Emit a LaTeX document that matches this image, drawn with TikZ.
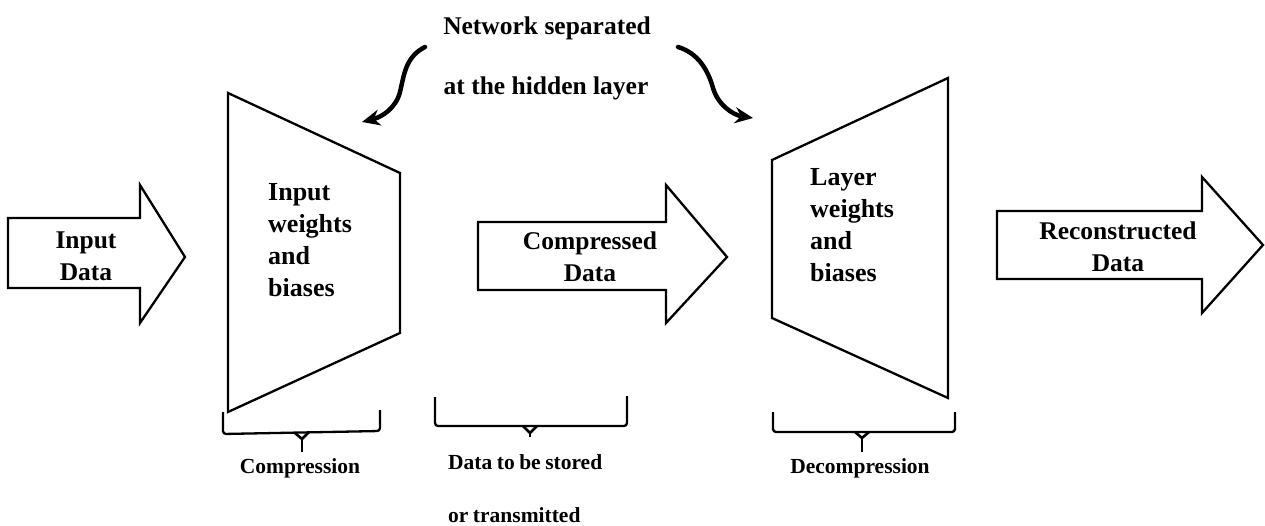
\documentclass[tikz,border=0pt]{standalone}
\usepackage{fontspec}
\setmainfont{Liberation Serif}
\usetikzlibrary{arrows.meta}
\begin{document}
\begin{tikzpicture}[x=1pt,y=-1pt,
  outline/.style={draw=black,line width=2.3pt,line join=miter,fill=white},
  lbl/.style={font=\bfseries\fontsize{25.5}{32}\selectfont,align=center,inner sep=0pt},
  trlbl/.style={font=\bfseries\fontsize{26}{32}\selectfont,align=left,inner sep=0pt,anchor=west},
  titletxt/.style={font=\bfseries\fontsize{25.5}{28}\selectfont,inner sep=0pt},
  captxt/.style={font=\bfseries\fontsize{21.5}{25}\selectfont,inner sep=0pt},
  bracepath/.style={draw=black,line width=2.3pt,rounded corners=3pt},
  stub/.style={draw=black,line width=2.6pt},
  curl/.style={draw=black,line width=4.5pt,line cap=round,-{Stealth[length=18pt,width=16pt]}}
]
\useasboundingbox (0,0) rectangle (1265,526);
\fill[white] (0,0) rectangle (1265,526);

% block arrows
\draw[outline] (8,218) -- (140,218) -- (140,185) -- (185,257) -- (140,323) -- (140,288) -- (8,288) -- cycle;
\node[lbl] (inp) at (86,256) {Input\\Data};

\draw[outline] (478,222) -- (666,222) -- (666,185) -- (727,257) -- (666,323) -- (666,290) -- (478,290) -- cycle;
\node[lbl] (comp) at (590,257) {Compressed\\Data};

\draw[outline] (997,211) -- (1202,211) -- (1202,177) -- (1263,245) -- (1202,313) -- (1202,279) -- (997,279) -- cycle;
\node[lbl] (rec) at (1118,247) {Reconstructed\\Data};

% trapezoids
\draw[outline] (228,93) -- (400,173) -- (400,333) -- (228,412) -- cycle;
\node[trlbl] (enc) at (268,240) {Input\\weights\\and\\biases};

\draw[outline] (772,160) -- (948,78) -- (948,398) -- (772,318) -- cycle;
\node[trlbl] (dec) at (810,225) {Layer\\weights\\and\\biases};

% title
\node[titletxt] (t1) at (547,28) {Network separated};
\node[titletxt] (t2) at (546,88) {at the hidden layer};

% curly arrows
\coordinate (cl0) at (425,47);
\coordinate (cl1) at (362,122);
\coordinate (cr0) at (678,47);
\coordinate (cr1) at (753,118);
\draw[curl] (cl0) .. controls (405,57) and (404,76) .. (400,92) .. controls (396,108) and (382,117) .. (cl1);
\draw[curl] (cr0) .. controls (698,53) and (708,70) .. (713,88) .. controls (718,105) and (733,115) .. (cr1);

% braces
\draw[bracepath] (223,412) -- (223,434) -- (380,431) -- (380,410);
\draw[stub] (295,433) -- (302,439) -- (309,432);
\draw[stub] (302,437) -- (302,452);
\node[captxt] (c1) at (300,468) {Compression};

\draw[bracepath] (435,397) -- (435,426) -- (627,426) -- (627,396);
\draw[stub] (523,426) -- (530,433) -- (537,426);
\draw[stub] (530,431) -- (530,437);
\node[captxt,anchor=west] (c2a) at (448,462) {Data\hspace{4.5pt}to\hspace{4.5pt}be\hspace{4.5pt}stored};
\node[captxt,anchor=west] (c2b) at (448,515) {or\hspace{4.5pt}transmitted};

\draw[bracepath] (773,412) -- (773,432) -- (955,432) -- (955,412);
\draw[stub] (855,432) -- (862,438) -- (869,432);
\draw[stub] (862,436) -- (862,452);
\node[captxt] (c3) at (860,468) {Decompression};
\end{tikzpicture}
\end{document}
